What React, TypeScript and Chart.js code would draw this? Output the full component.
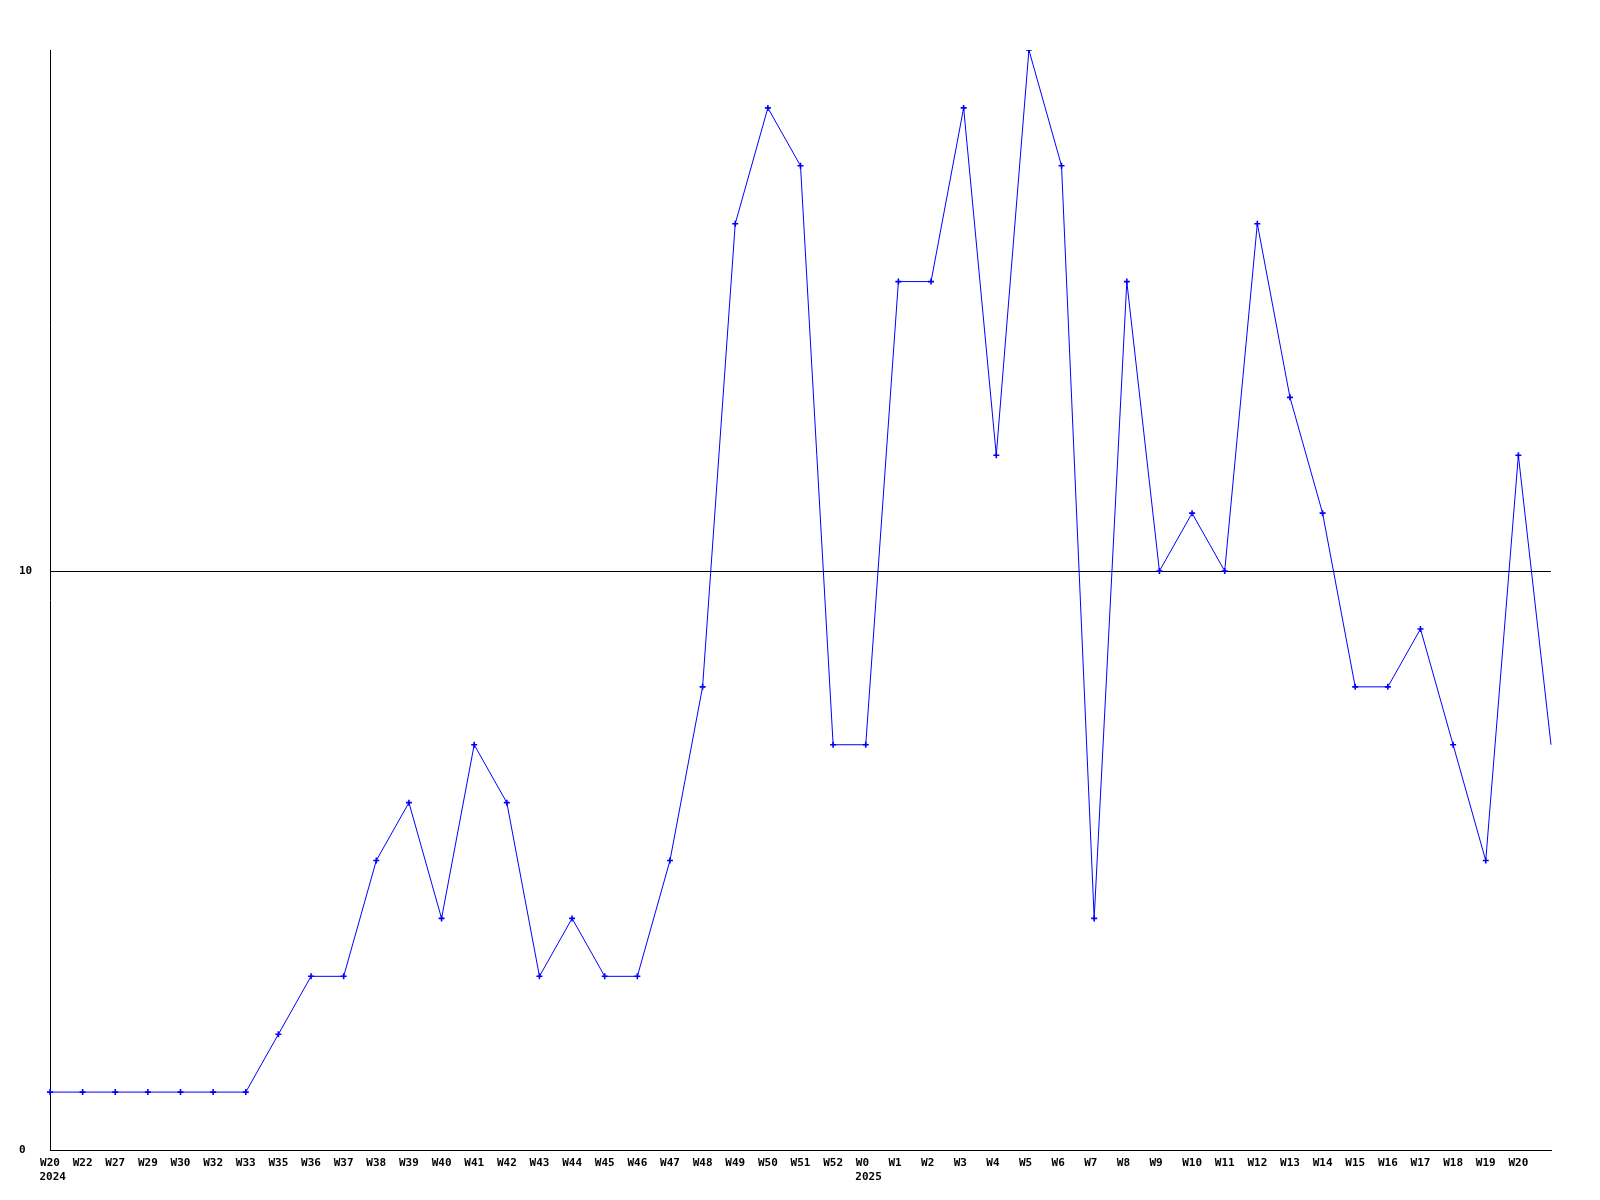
import React, { useEffect, useRef } from "react";
import { Chart, registerables } from "chart.js";

Chart.register(...registerables);

const weekLabels = [
  "W20", "W22", "W27", "W29", "W30", "W32", "W33", "W35", "W36", "W37",
  "W38", "W39", "W40", "W41", "W42", "W43", "W44", "W45", "W46", "W47",
  "W48", "W49", "W50", "W51", "W52", "W0", "W1", "W2", "W3", "W4",
  "W5", "W6", "W7", "W8", "W9", "W10", "W11", "W12", "W13", "W14",
  "W15", "W16", "W17", "W18", "W19", "W20", "",
];

const counts = [
  1, 1, 1, 1, 1, 1, 1, 2, 3, 3,
  5, 6, 4, 7, 6, 3, 4, 3, 3, 5,
  8, 16, 18, 17, 7, 7, 15, 15, 18, 12,
  19, 17, 4, 15, 10, 11, 10, 16, 13, 11,
  8, 8, 9, 7, 5, 12, 7,
];

const yearMarks = [
  { index: 0, label: "2024" },
  { index: 25, label: "2025" },
];

const yTicks = [0, 10];
const yMax = 19;

const FONT_FAMILY = "'DejaVu Sans Mono', 'Liberation Mono', monospace";

export default function App() {
  const canvasRef = useRef<HTMLCanvasElement | null>(null);

  useEffect(() => {
    document.body.style.margin = "0";
    const canvas = canvasRef.current;
    if (!canvas) return;

    const yearPlugin = {
      id: "yearLabels",
      afterDraw(chart: any) {
        const ctx = chart.ctx;
        const xScale = chart.scales.x;
        ctx.save();
        ctx.font = `bold 11px ${FONT_FAMILY}`;
        ctx.fillStyle = "#000";
        ctx.textAlign = "left";
        ctx.textBaseline = "middle";
        for (const ym of yearMarks) {
          const px = xScale.getPixelForValue(ym.index);
          ctx.fillText(ym.label, px - 10.5, 1177);
        }
        ctx.restore();
      },
    };

    const lastIndex = counts.length - 1;

    const chart = new Chart(canvas, {
      type: "line",
      data: {
        labels: weekLabels,
        datasets: [
          {
            data: counts,
            borderColor: "#0000ff",
            backgroundColor: "#0000ff",
            borderWidth: 1,
            pointStyle: "cross",
            pointRadius: (c: any) => (c.dataIndex === lastIndex ? 0 : 3),
            pointBorderWidth: 1.6,
            pointBorderColor: "#0000ff",
            tension: 0,
            fill: false,
          },
        ],
      },
      options: {
        animation: false,
        responsive: false,
        maintainAspectRatio: false,
        devicePixelRatio: 1,
        layout: { padding: { left: 19, top: 50, right: 49, bottom: 0 } },
        plugins: {
          legend: { display: false },
          tooltip: { enabled: false },
          title: { display: false },
        },
        scales: {
          x: {
            type: "category",
            offset: false,
            grid: { display: false, drawTicks: false },
            border: { display: true, color: "#000", width: 1 },
            afterFit(scale: any) {
              scale.height = 50;
            },
            ticks: {
              autoSkip: false,
              maxRotation: 0,
              minRotation: 0,
              padding: 7,
              color: "#000",
              font: { family: FONT_FAMILY, size: 11, weight: "bold" },
              callback: (_v: any, i: number) => weekLabels[i].padEnd(3, " "),
            },
          },
          y: {
            min: 0,
            max: yMax,
            afterBuildTicks(scale: any) {
              scale.ticks = yTicks.map((v) => ({ value: v }));
            },
            afterFit(scale: any) {
              scale.width = 31;
            },
            grid: {
              display: true,
              drawTicks: false,
              color: "#000",
              lineWidth: 1,
            },
            border: { display: true, color: "#000", width: 1 },
            ticks: {
              crossAlign: "far",
              padding: 0,
              color: "#000",
              font: { family: FONT_FAMILY, size: 11, weight: "bold" },
            },
          },
        },
      },
      plugins: [yearPlugin],
    });

    return () => {
      chart.destroy();
    };
  }, []);

  return (
    <div style={{ position: "absolute", left: 0, top: 0, width: 1600, height: 1200, background: "#fff" }}>
      <canvas ref={canvasRef} width={1600} height={1200} style={{ width: 1600, height: 1200, display: "block" }} />
    </div>
  );
}
